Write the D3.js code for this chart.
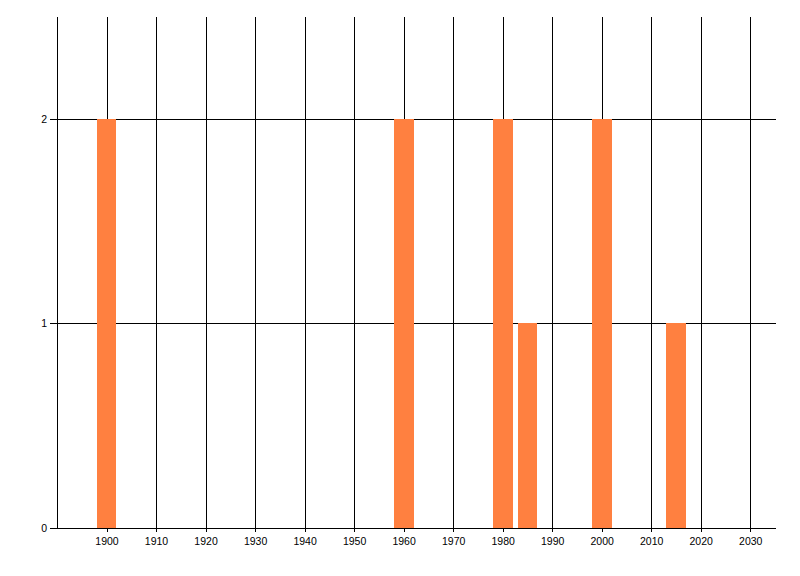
<!DOCTYPE html>
<html><head><meta charset="utf-8">
<script src="https://cdn.jsdelivr.net/npm/d3@7"></script>
<style>body{margin:0;background:#fff}svg{display:block}text{font-family:"Liberation Sans",Arial,sans-serif;font-size:10.5px;fill:#000}</style>
</head><body><svg id="c" width="800" height="576"></svg>
<script>
const years = [1900, 1960, 1980, 1985, 2000, 2015];
const counts = [2, 2, 2, 1, 2, 1];
const xTicks = [1900, 1910, 1920, 1930, 1940, 1950, 1960, 1970, 1980, 1990, 2000, 2010, 2020, 2030];
const yTicks = [0, 1, 2];
const barWidthYears = 4;

const svg = d3.select("#c");
const x = d3.scaleLinear().domain([1890, 2035]).range([57, 775]);
const y = d3.scaleLinear().domain([0, 2.5]).range([527.5, 17]);

// vertical grid lines
svg.append("g").selectAll("line").data(xTicks).join("line")
  .attr("x1", d => Math.round(x(d)) + 0.5).attr("x2", d => Math.round(x(d)) + 0.5)
  .attr("y1", 17).attr("y2", 532).attr("stroke", "#000");
// left axis line
svg.append("line").attr("x1", 57.5).attr("x2", 57.5).attr("y1", 17).attr("y2", 528).attr("stroke", "#000");
// horizontal grid lines
svg.append("g").selectAll("line").data(yTicks).join("line")
  .attr("x1", 50).attr("x2", 776)
  .attr("y1", d => Math.round(y(d)) + 0.5).attr("y2", d => Math.round(y(d)) + 0.5)
  .attr("stroke", "#000");

// bars
svg.append("g").attr("shape-rendering", "crispEdges").selectAll("rect").data(years).join("rect")
  .attr("x", d => Math.round(x(d - barWidthYears / 2)))
  .attr("width", d => Math.round(x(d + barWidthYears / 2)) - Math.round(x(d - barWidthYears / 2)))
  .attr("y", (d, i) => Math.round(y(counts[i])))
  .attr("height", (d, i) => Math.round(y(0)) - Math.round(y(counts[i])))
  .attr("fill", "#FF8040");

// x labels
svg.append("g").selectAll("text").data(xTicks).join("text")
  .attr("x", d => x(d) + 0.5).attr("y", 545).attr("text-anchor", "middle").text(d => d);
// y labels
svg.append("g").selectAll("text").data(yTicks).join("text")
  .attr("x", 47).attr("y", d => y(d) + 4).attr("text-anchor", "end").text(d => d);
</script></body></html>
